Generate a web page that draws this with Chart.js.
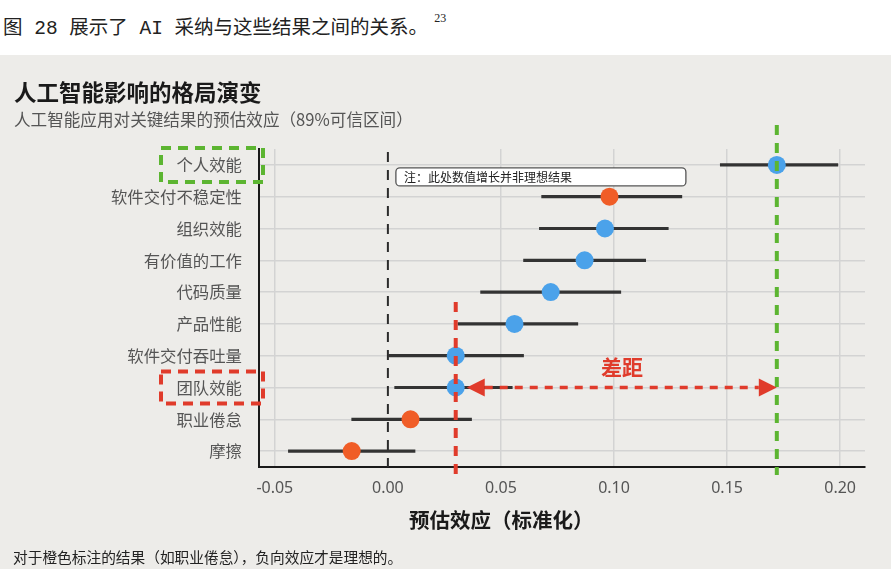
<!DOCTYPE html>
<html>
<head>
<meta charset="utf-8">
<script src="https://cdn.jsdelivr.net/npm/chart.js@4.4.1/dist/chart.umd.min.js"></script>
<style>
  html, body { margin: 0; padding: 0; background: #ffffff; }
  body { width: 891px; height: 569px; position: relative; overflow: hidden; font-family: "Noto Sans CJK SC", "Noto Sans", sans-serif; }
  #top { position: absolute; left: 0; top: 0; width: 891px; height: 55px; background: #fff; }
  #caption { position: absolute; left: 3px; top: 8px; font-family: "Liberation Mono", "Noto Sans CJK SC", monospace; font-size: 19.5px; color: #222; white-space: nowrap; line-height: 28px; }
  #caption sup { font-family: "Liberation Serif", serif; font-size: 12px; position: relative; top: -4px; margin-left: 6px; }
  #panel { position: absolute; left: 0; top: 55px; width: 891px; height: 514px; background: #edece9; }
  #title { position: absolute; left: 14px; top: 20px; font-size: 22.5px; font-weight: 700; color: #1a1a1a; white-space: nowrap; line-height: 32px; }
  #subtitle { position: absolute; left: 14px; top: 52px; font-size: 16.6px; color: #555; white-space: nowrap; line-height: 24px; }
  #wrap { position: absolute; left: 0; top: 0; width: 891px; height: 514px; }
  #xtitle { position: absolute; left: 409px; top: 450px; font-size: 20.5px; font-weight: 700; color: #1a1a1a; white-space: nowrap; line-height: 28px; }
  #foot { position: absolute; left: 13px; top: 492px; font-size: 14.7px; color: #222; white-space: nowrap; line-height: 20px; }
</style>
</head>
<body>
<div id="top"><div id="caption">图 28 展示了 AI 采纳与这些结果之间的关系。<sup>23</sup></div></div>
<div id="panel">
  <div id="wrap"><canvas id="c"></canvas></div>
  <div id="title">人工智能影响的格局演变</div>
  <div id="subtitle">人工智能应用对关键结果的预估效应（89%可信区间）</div>
  <div id="xtitle">预估效应（标准化）</div>
  <div id="foot">对于橙色标注的结果（如职业倦怠），负向效应才是理想的。</div>
</div>
<script>
// ---- data ----
const CATEGORIES = ["个人效能", "软件交付不稳定性", "组织效能", "有价值的工作", "代码质量", "产品性能", "软件交付吞吐量", "团队效能", "职业倦怠", "摩擦"];
const ESTIMATE   = [0.172, 0.098, 0.096, 0.087, 0.072, 0.056, 0.030, 0.030, 0.010, -0.016];
const CI_LOW     = [0.147, 0.068, 0.067, 0.060, 0.041, 0.031, 0.000, 0.003, -0.016, -0.044];
const CI_HIGH    = [0.199, 0.130, 0.124, 0.114, 0.103, 0.084, 0.060, 0.055, 0.037, 0.012];
const NEGATIVE_DESIRABLE = ["软件交付不稳定性", "职业倦怠", "摩擦"];
const X_TICKS = [-0.05, 0.00, 0.05, 0.10, 0.15, 0.20];
const X_MIN = -0.057, X_MAX = 0.211;
const TARGET_VALUE = 0.172;   // 个人效能 (green reference)
const TEAM_VALUE = 0.030;     // 团队效能 (red reference)
const HIGHLIGHT_TOP = "个人效能";
const HIGHLIGHT_BOTTOM = "团队效能";
const NOTE_TEXT = "注：此处数值增长并非理想结果";
const GAP_TEXT = "差距";

const BLUE = "#4ba2ea", ORANGE = "#f05d27", GREEN = "#5cb531", RED = "#e03b2b";

const pointColors = CATEGORIES.map(c => NEGATIVE_DESIRABLE.includes(c) ? ORANGE : BLUE);
const ranges = CATEGORIES.map((c, i) => [CI_LOW[i], CI_HIGH[i]]);

function dashedV(ctx, x, y0, y1, color, width, dash) {
  ctx.save();
  ctx.strokeStyle = color; ctx.lineWidth = width; ctx.setLineDash(dash);
  ctx.beginPath(); ctx.moveTo(x, y0); ctx.lineTo(x, y1); ctx.stroke();
  ctx.restore();
}

const overlay = {
  id: "overlay",
  beforeDatasetsDraw(chart) {
    const { ctx, chartArea, scales } = chart;
    const x0 = scales.x.getPixelForValue(0);
    dashedV(ctx, x0, chartArea.top + 3, chartArea.bottom, "#2b2b2b", 2, [10, 8]);
  },
  afterDatasetsDraw(chart) {
    const { ctx, chartArea, scales } = chart;
    const xs = scales.x, ys = scales.y;
    const iTop = CATEGORIES.indexOf(HIGHLIGHT_TOP);
    const iBot = CATEGORIES.indexOf(HIGHLIGHT_BOTTOM);
    const yTop = ys.getPixelForValue(iTop);
    const yBot = ys.getPixelForValue(iBot);
    const xG = xs.getPixelForValue(TARGET_VALUE);
    const xR = xs.getPixelForValue(TEAM_VALUE);

    // note box
    const x0 = xs.getPixelForValue(0);
    ctx.save();
    const bx = x0 + 8, by = yTop + 3, bw = 290, bh = 18;
    ctx.fillStyle = "#ffffff"; ctx.strokeStyle = "#555"; ctx.lineWidth = 1.3;
    ctx.beginPath(); ctx.roundRect(bx, by, bw, bh, 4); ctx.fill(); ctx.stroke();
    ctx.fillStyle = "#222"; ctx.font = "12px 'Noto Sans CJK SC'"; ctx.textBaseline = "middle"; ctx.textAlign = "left";
    ctx.fillText(NOTE_TEXT, bx + 8, by + bh / 2 + 0.5);
    ctx.restore();

    // reference lines
    dashedV(ctx, xG, chartArea.top - 24, chartArea.bottom + 8, GREEN, 4, [10, 8]);
    dashedV(ctx, xR, ys.getPixelForValue(4) + 10, chartArea.bottom + 8, RED, 4, [10, 8]);

    // label highlight boxes
    ctx.save();
    ctx.lineWidth = 4; ctx.setLineDash([10, 7]);
    ctx.strokeStyle = GREEN;
    ctx.strokeRect(161, yTop - 17, 102, 34);
    ctx.strokeStyle = RED;
    ctx.strokeRect(161, yBot - 16, 102, 32);
    ctx.restore();

    // gap arrow
    const tipL = xs.getPixelForValue(ESTIMATE[iBot]) + 11;
    const tipR = xG;
    const head = 18, hh = 9;
    ctx.save();
    ctx.strokeStyle = RED; ctx.fillStyle = RED; ctx.lineWidth = 3.5; ctx.setLineDash([8, 7]);
    ctx.beginPath(); ctx.moveTo(tipL + head, yBot); ctx.lineTo(tipR - head, yBot); ctx.stroke();
    ctx.setLineDash([]);
    ctx.beginPath(); ctx.moveTo(tipL, yBot); ctx.lineTo(tipL + head, yBot - hh); ctx.lineTo(tipL + head, yBot + hh); ctx.closePath(); ctx.fill();
    ctx.beginPath(); ctx.moveTo(tipR, yBot); ctx.lineTo(tipR - head, yBot - hh); ctx.lineTo(tipR - head, yBot + hh); ctx.closePath(); ctx.fill();
    ctx.font = "bold 21px 'Noto Sans CJK SC'"; ctx.textAlign = "center"; ctx.textBaseline = "middle";
    ctx.fillText(GAP_TEXT, 622, yBot - 20);
    ctx.restore();
  }
};

const GRID = "#d3d3d3";
new Chart(document.getElementById("c"), {
  data: {
    labels: CATEGORIES,
    datasets: [
      {
        type: "line", indexAxis: "y", data: ESTIMATE, showLine: false,
        pointRadius: 9, pointHoverRadius: 9, pointBorderWidth: 0,
        pointBackgroundColor: pointColors, pointBorderColor: pointColors, order: 0
      },
      {
        type: "bar", indexAxis: "y", data: ranges, backgroundColor: "#333333",
        barThickness: 2.5, borderSkipped: false, order: 1
      }
    ]
  },
  options: {
    indexAxis: "y",
    responsive: true, maintainAspectRatio: false, animation: false,
    layout: { padding: { top: 94, left: 0, right: 26, bottom: 0 } },
    plugins: { legend: { display: false }, tooltip: { enabled: false }, title: { display: false } },
    scales: {
      x: {
        type: "linear", min: X_MIN, max: X_MAX,
        afterBuildTicks: s => { s.ticks = X_TICKS.map(v => ({ value: v })); },
        afterFit: s => { s.height = 102; },
        border: { display: true, color: "#1a1a1a", width: 2 },
        grid: { color: ctx => (ctx.tick && ctx.tick.value === 0) ? "rgba(0,0,0,0)" : GRID, lineWidth: 1.5, drawTicks: false },
        ticks: { color: "#555", font: { family: "Noto Sans", size: 16 }, padding: 12, callback: v => Number(v).toFixed(2) }
      },
      y: {
        type: "category", offset: true,
        afterFit: s => { s.width = 259; },
        border: { display: true, color: "#1a1a1a", width: 2 },
        grid: { color: GRID, lineWidth: 1.5, drawTicks: false, offset: false },
        ticks: { color: "#555", font: { family: "Noto Sans CJK SC", size: 16.4 }, padding: 17 }
      }
    }
  },
  plugins: [overlay]
});
</script>
</body>
</html>
